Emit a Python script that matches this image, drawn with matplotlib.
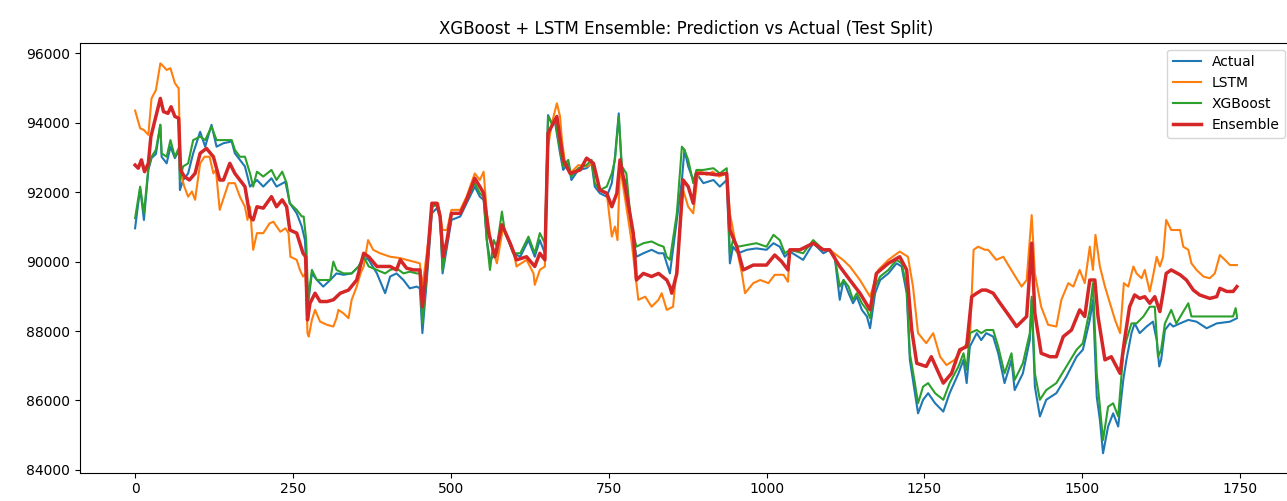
import matplotlib
matplotlib.use("Agg")
import matplotlib.pyplot as plt

# test-split index / value pairs
actual_idx = [0, 8, 14, 21, 26, 33, 40, 42, 50, 56, 63, 70, 71, 76, 84, 92, 103, 111, 121, 129, 140, 153,
              158, 166, 174, 182, 193, 203, 216, 224, 238, 245, 256, 264, 269, 274, 280, 288, 298, 309, 319,
              330, 343, 354, 362, 370, 383, 396, 404, 414, 425, 435, 446, 451, 455, 462, 470, 478, 483, 487,
              494, 501, 515, 525, 538, 546, 552, 557, 562, 573, 583, 591, 599, 610, 623, 633, 641, 649, 654,
              660, 665, 673, 678, 686, 691, 702, 715, 723, 728, 736, 747, 755, 760, 766, 771, 778, 786, 794,
              805, 818, 829, 837, 842, 847, 858, 866, 870, 876, 884, 889, 900, 916, 926, 937, 942, 947, 955,
              969, 984, 1000, 1011, 1021, 1029, 1037, 1058, 1074, 1090, 1100, 1108, 1116, 1122, 1130, 1137,
              1143, 1151, 1159, 1164, 1172, 1180, 1193, 1206, 1214, 1222, 1227, 1235, 1240, 1248, 1256, 1267,
              1280, 1290, 1304, 1312, 1317, 1322, 1333, 1340, 1348, 1359, 1367, 1377, 1388, 1393, 1406, 1417,
              1420, 1425, 1433, 1443, 1459, 1475, 1491, 1501, 1512, 1517, 1523, 1528, 1533, 1541, 1549, 1557,
              1565, 1570, 1578, 1583, 1591, 1602, 1612, 1618, 1622, 1625, 1631, 1639, 1644, 1655, 1668, 1681,
              1697, 1713, 1734, 1745]
actual_val = [90960, 92110, 91200, 92640, 92980, 93100, 93940, 93020, 92830, 93310, 92980, 93220, 92060, 92350,
              92540, 93120, 93740, 93310, 93940, 93310, 93410, 93460, 93120, 92930, 92740, 92160, 92350, 92160,
              92400, 92160, 92300, 91680, 91390, 91010, 90620, 88800, 89660, 89470, 89280, 89470, 89660, 89620,
              89660, 89860, 90140, 90050, 89660, 89090, 89570, 89660, 89470, 89230, 89280, 89230, 87940, 89470,
              91390, 91540, 91300, 89660, 90430, 91200, 91300, 91680, 92160, 91870, 91780, 90620, 90050, 90240,
              91010, 90620, 90240, 90140, 90620, 90140, 90620, 90240, 94220, 93980, 94030, 93120, 92640, 92830,
              92350, 92640, 92690, 92830, 92160, 91970, 91870, 92260, 93020, 94270, 92540, 92260, 91010, 90140,
              90240, 90340, 90240, 90240, 89950, 89660, 91200, 92350, 93220, 92740, 92350, 92540, 92260, 92350,
              92160, 92350, 89950, 90430, 90240, 90340, 90380, 90340, 90530, 90430, 90140, 90290, 90050, 90530,
              90240, 90340, 90140, 88900, 89470, 89090, 88800, 88990, 88610, 88420, 88080, 89090, 89470, 89660,
              89950, 89860, 89090, 87170, 86210, 85630, 86020, 86210, 85920, 85680, 86210, 86780, 87170, 86500,
              87550, 87940, 87740, 87940, 87840, 87360, 86500, 87170, 86300, 86780, 87740, 88900, 86400, 85540,
              86020, 86210, 86690, 87260, 87460, 88320, 88900, 86110, 85440, 84480, 85250, 85630, 85250, 86590,
              87170, 87940, 88220, 87940, 88130, 88270, 87740, 86980, 87170, 88030, 88220, 88130, 88220, 88320,
              88270, 88080, 88220, 88270, 88370]

xgb_idx = [0, 8, 14, 21, 26, 33, 40, 42, 50, 56, 63, 70, 71, 76, 84, 92, 103, 111, 121, 129, 140, 153,
           158, 166, 174, 182, 187, 193, 203, 216, 224, 233, 240, 245, 256, 264, 267, 271, 274, 280, 288, 298,
           309, 314, 319, 330, 343, 354, 362, 370, 383, 396, 404, 414, 425, 435, 446, 451, 455, 462, 470, 478,
           483, 487, 494, 501, 515, 525, 538, 546, 552, 557, 562, 568, 573, 581, 586, 591, 599, 610, 623, 633,
           641, 649, 654, 660, 665, 673, 678, 686, 691, 702, 715, 723, 728, 736, 747, 755, 760, 766, 771, 778,
           786, 794, 805, 818, 829, 837, 842, 847, 858, 866, 870, 876, 884, 889, 900, 916, 926, 937, 942, 947,
           955, 969, 984, 1000, 1011, 1021, 1029, 1037, 1058, 1074, 1090, 1100, 1108, 1116, 1122, 1130, 1137,
           1143, 1151, 1159, 1164, 1172, 1180, 1193, 1206, 1214, 1222, 1227, 1235, 1240, 1248, 1256, 1267,
           1280, 1290, 1304, 1312, 1317, 1322, 1333, 1340, 1348, 1359, 1367, 1377, 1388, 1393, 1406, 1417,
           1420, 1425, 1433, 1443, 1459, 1475, 1491, 1501, 1512, 1517, 1523, 1528, 1533, 1541, 1549, 1557,
           1565, 1570, 1578, 1586, 1597, 1607, 1615, 1620, 1625, 1631, 1641, 1649, 1668, 1673, 1681, 1700,
           1720, 1739, 1743, 1745]
xgb_val = [91250, 92160, 91390, 92690, 93020, 93220, 93940, 93120, 93020, 93500, 93020, 93310, 92350, 92740,
           92830, 93500, 93600, 93500, 93890, 93500, 93500, 93500, 93220, 93020, 93020, 92540, 92160, 92590,
           92450, 92640, 92350, 92590, 92260, 91680, 91490, 91300, 91300, 90620, 88900, 89760, 89470, 89470,
           89470, 90000, 89760, 89660, 89660, 89860, 90140, 89860, 89760, 89660, 89760, 89810, 89660, 89710,
           89660, 89660, 88220, 89660, 91580, 91630, 91390, 89760, 90620, 91390, 91390, 91780, 92260, 91970,
           91870, 90620, 89760, 90620, 90430, 91440, 90820, 90620, 90240, 90240, 90720, 90240, 90820, 90530,
           94180, 93980, 94080, 93220, 92740, 92930, 92450, 92690, 92780, 92930, 92260, 92060, 92160, 92540,
           92930, 94180, 92740, 92540, 91010, 90430, 90530, 90580, 90480, 90430, 90140, 90050, 91390, 93310,
           93220, 92930, 92260, 92640, 92640, 92690, 92540, 92690, 90240, 90620, 90430, 90480, 90530, 90430,
           90770, 90620, 90240, 90340, 90240, 90620, 90340, 90340, 90140, 89280, 89470, 89280, 88900, 89090,
           88800, 88610, 88370, 89280, 89570, 89760, 90050, 89950, 89280, 87360, 86500, 85920, 86400, 86500,
           86210, 86020, 86500, 86980, 87360, 86880, 87940, 88030, 87940, 88030, 88030, 87550, 86780, 87360,
           86590, 87070, 87940, 88990, 86780, 86020, 86300, 86500, 86980, 87460, 87650, 88610, 89380, 86780,
           85820, 84860, 85820, 85920, 85540, 87360, 87740, 88220, 88220, 88420, 88700, 88700, 87260, 87460,
           88220, 88610, 88220, 88800, 88420, 88420, 88420, 88420, 88420, 88660, 88420]

lstm_idx = [0, 8, 14, 21, 26, 33, 40, 45, 50, 56, 63, 69, 72, 78, 84, 90, 95, 103, 110, 118, 124, 128, 134,
            148, 158, 166, 174, 178, 182, 187, 193, 203, 213, 219, 230, 238, 243, 246, 256, 261, 266, 270, 273,
            275, 280, 285, 293, 304, 314, 319, 322, 330, 338, 343, 351, 357, 362, 369, 377, 388, 404, 420, 430,
            441, 451, 455, 462, 467, 472, 480, 487, 494, 501, 515, 525, 538, 546, 552, 557, 565, 573, 583, 599,
            604, 620, 631, 633, 641, 649, 654, 660, 668, 673, 676, 681, 689, 702, 715, 726, 736, 747, 755, 760,
            764, 768, 778, 786, 797, 808, 818, 829, 834, 842, 852, 860, 868, 876, 884, 892, 905, 915, 925, 937,
            942, 950, 961, 966, 979, 990, 1003, 1013, 1027, 1034, 1037, 1053, 1074, 1090, 1100, 1121, 1132,
            1148, 1164, 1177, 1193, 1211, 1224, 1232, 1240, 1253, 1264, 1275, 1285, 1298, 1311, 1322, 1328,
            1335, 1346, 1351, 1364, 1375, 1391, 1404, 1412, 1420, 1425, 1435, 1446, 1459, 1467, 1478, 1486,
            1496, 1504, 1512, 1517, 1521, 1528, 1536, 1544, 1552, 1560, 1566, 1573, 1581, 1586, 1594, 1599,
            1607, 1612, 1618, 1623, 1628, 1633, 1641, 1655, 1660, 1668, 1673, 1681, 1692, 1702, 1710, 1718,
            1726, 1734, 1745]
lstm_val = [94350, 93840, 93790, 93650, 94700, 94940, 95710, 95620, 95520, 95570, 95140, 94990, 92540, 92160,
            91870, 92020, 91780, 92830, 93020, 93020, 92540, 92640, 91490, 92260, 92260, 91870, 91580, 91200,
            91580, 90340, 90820, 90820, 91100, 91150, 90860, 90960, 90820, 90140, 90050, 89760, 89570, 89660,
            87940, 87840, 88320, 88610, 88270, 88180, 88130, 88370, 88610, 88510, 88370, 88900, 89280, 89660,
            89860, 90620, 90340, 90240, 90140, 90100, 90050, 90000, 89950, 89280, 90240, 91010, 91680, 91680,
            90910, 90910, 91490, 91490, 91870, 92540, 92350, 92590, 91390, 90430, 89950, 91010, 90340, 89860,
            90050, 89660, 89330, 89760, 89860, 93310, 93980, 94560, 94180, 93500, 92830, 92540, 92780, 92740,
            92830, 92060, 91970, 90720, 91010, 90620, 92740, 91580, 90620, 88900, 88990, 88700, 88900, 89090,
            88610, 88700, 90240, 92060, 91580, 91390, 92640, 92500, 92590, 92450, 92540, 91390, 90620, 89660,
            89090, 89380, 89470, 89380, 89620, 89620, 89420, 90340, 90340, 90530, 90340, 90340, 90050, 89860,
            89470, 88990, 89760, 90050, 90290, 90140, 89280, 87940, 87650, 87940, 87260, 87020, 87170, 87500,
            87740, 90340, 90430, 90340, 90340, 90050, 90140, 89660, 89280, 89470, 91340, 89660, 88700, 88180,
            88130, 88900, 89380, 89280, 89760, 89380, 90430, 89760, 90770, 89860, 89280, 88800, 88320, 87940,
            89380, 89280, 89860, 89660, 89520, 89760, 89140, 89570, 90140, 89860, 90140, 91200, 90910, 90910,
            90430, 90340, 89950, 89760, 89570, 89520, 89660, 90190, 90050, 89900, 89900]

ens_idx = [0, 5, 10, 15, 21, 25, 33, 40, 45, 52, 57, 63, 69, 72, 78, 86, 95, 103, 113, 124, 134, 140, 150,
           158, 166, 174, 182, 187, 193, 203, 216, 224, 233, 240, 245, 256, 266, 270, 273, 277, 285, 293, 304,
           314, 325, 338, 351, 362, 370, 383, 396, 404, 414, 420, 430, 441, 451, 455, 462, 470, 478, 483, 488,
           494, 501, 515, 525, 538, 546, 552, 560, 570, 581, 594, 604, 620, 633, 641, 649, 654, 665, 668, 678,
           689, 705, 715, 726, 736, 747, 755, 763, 768, 778, 789, 794, 805, 818, 829, 842, 847, 850, 858, 868,
           876, 884, 889, 905, 920, 937, 942, 953, 963, 979, 1000, 1013, 1024, 1034, 1037, 1053, 1074, 1090,
           1100, 1116, 1132, 1148, 1164, 1174, 1193, 1211, 1222, 1230, 1238, 1253, 1261, 1280, 1293, 1306,
           1317, 1325, 1333, 1341, 1348, 1359, 1370, 1385, 1396, 1412, 1420, 1425, 1435, 1449, 1459, 1470,
           1483, 1496, 1504, 1512, 1520, 1525, 1536, 1546, 1560, 1567, 1575, 1583, 1591, 1599, 1607, 1615,
           1623, 1628, 1633, 1641, 1655, 1665, 1676, 1686, 1702, 1713, 1718, 1729, 1739, 1745]
ens_val = [92780, 92690, 92930, 92590, 92830, 93600, 94180, 94700, 94320, 94270, 94460, 94180, 94130, 92640,
           92450, 92350, 92540, 93120, 93260, 93020, 92350, 92350, 92830, 92540, 92350, 92160, 91300, 91200,
           91580, 91540, 91870, 91580, 91780, 91580, 90910, 90820, 90240, 90140, 88320, 88800, 89090, 88850,
           88850, 88900, 89090, 89180, 89470, 90240, 90140, 89860, 89860, 89860, 89760, 90050, 89810, 89760,
           89760, 88700, 89860, 91680, 91680, 91300, 90140, 90620, 91390, 91390, 91780, 92400, 92160, 91970,
           90820, 90140, 91060, 90530, 90050, 90140, 89860, 90240, 90050, 93700, 94080, 94180, 92930, 92540,
           92640, 92980, 92830, 92060, 91970, 91580, 91970, 92930, 91970, 90820, 89470, 89660, 89570, 89660,
           89470, 89280, 89090, 89660, 92350, 92160, 91680, 92540, 92540, 92500, 92540, 90910, 90430, 89760,
           89900, 89900, 90190, 90000, 89760, 90340, 90340, 90530, 90340, 90340, 89860, 89470, 89090, 88610,
           89660, 89950, 90140, 89760, 88030, 87070, 86980, 87260, 86500, 86780, 87460, 87550, 88990, 89090,
           89180, 89180, 89090, 88800, 88420, 88130, 88420, 90530, 88510, 87360, 87260, 87260, 87840, 88030,
           88610, 88420, 89470, 89470, 88420, 87170, 87260, 86780, 87740, 88700, 89040, 88940, 88990, 88800,
           88990, 88560, 89090, 89660, 89760, 89620, 89470, 89180, 89040, 88940, 88990, 89230, 89140, 89140,
           89280]

fig = plt.figure(figsize=(12.87, 5.01), dpi=100)
ax = fig.add_axes([80 / 1287, 28.3 / 501, 1212 / 1287, 430 / 501])

ax.plot(actual_idx, actual_val, label="Actual", color="#1f77b4", linewidth=1.5)
ax.plot(lstm_idx, lstm_val, label="LSTM", color="#ff7f0e", linewidth=1.5)
ax.plot(xgb_idx, xgb_val, label="XGBoost", color="#2ca02c", linewidth=1.5)
ax.plot(ens_idx, ens_val, label="Ensemble", color="#d62728", linewidth=2.5)

ax.set_xlim(-87.25, 1832.25)
ax.set_ylim(83920, 96305)
ax.set_xticks([0, 250, 500, 750, 1000, 1250, 1500, 1750])
ax.set_yticks([84000, 86000, 88000, 90000, 92000, 94000, 96000])
ax.set_title("XGBoost + LSTM Ensemble: Prediction vs Actual (Test Split)", fontsize=12)
ax.legend(loc="upper right")

fig.savefig("out.png", dpi=100)
